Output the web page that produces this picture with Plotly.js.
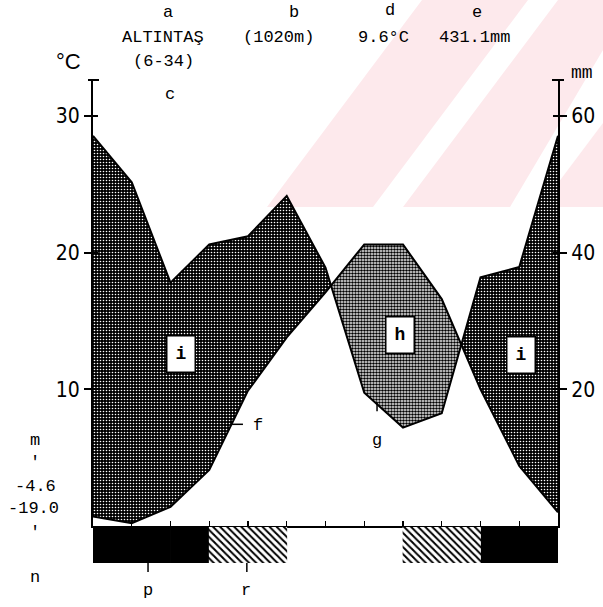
<!DOCTYPE html>
<html><head><meta charset="utf-8">
<script src="https://cdn.plot.ly/plotly-3.0.1.min.js"></script>
<style>html,body{margin:0;padding:0;background:#fff}</style>
</head><body><div id="chart" style="width:603px;height:607px"></div>
<script>
// ---- data ----
const months = ['Ara','Oca','Şub','Mar','Nis','May','Haz','Tem','Ağu','Eyl','Eki','Kas','Ara'];
const tempC  = [0.7, 0.2, 1.4, 4.1, 9.9, 13.8, 17.1, 20.6, 20.6, 16.6, 10.0, 4.4, 1.0];
const precMm = [57.1, 50.3, 35.6, 41.2, 42.4, 48.3, 37.8, 19.5, 14.4, 16.5, 36.4, 37.9, 57.1];
const frostMonths = ['Oca','Şub','Mar','Nis','May','Haz','Tem','Ağu','Eyl','Eki','Kas','Ara'];
const frostCode   = [2,2,2,1,1,0,0,0,1,1,2,2]; // 2 = certain frost, 1 = probable frost
const tempTicks = [10,20,30];
const precTicks = [20,40,60];

// ---- geometry helpers ----
const W=603,H=607,L=93,R=45,T=80,B=44;
const pw=W-L-R, ph=H-T-B;
const px = v => (v-L)/pw, py = v => (H-B-v)/ph;
const tTop = 32.63;

const idx = months.map((m,i)=>i);
const half = precMm.map(v=>v/2);
let xs=[], ts=[], ps=[];
for (let i=0;i<idx.length;i++){
  xs.push(idx[i]); ts.push(tempC[i]); ps.push(half[i]);
  if (i<idx.length-1){
    const d0=half[i]-tempC[i], d1=half[i+1]-tempC[i+1];
    if (d0*d1<0){
      const f=d0/(d0-d1);
      const tc=tempC[i]+f*(tempC[i+1]-tempC[i]);
      xs.push(idx[i]+f); ts.push(tc); ps.push(tc);
    }
  }
}
const hi = ts.map((t,k)=>Math.max(t,ps[k]));
const noLine = {width:0, color:'rgba(0,0,0,0)'};

const traces = [
  {x:xs, y:ts, mode:'lines', line:noLine, hoverinfo:'skip', showlegend:false},
  {x:xs, y:hi, mode:'lines', line:noLine, fill:'tonexty', fillcolor:'#000', fillpattern:{shape:'.', bgcolor:'#000', fgcolor:'#fff', size:3, solidity:0.22}, hoverinfo:'skip', showlegend:false},
  {x:xs, y:ps, mode:'lines', line:noLine, hoverinfo:'skip', showlegend:false},
  {x:xs, y:hi, mode:'lines', line:noLine, fill:'tonexty', fillcolor:'#fff', fillpattern:{shape:'.', bgcolor:'#fff', fgcolor:'#000', size:3, solidity:0.6}, hoverinfo:'skip', showlegend:false},
  {x:idx, y:tempC, mode:'lines', line:{color:'#000', width:2}, showlegend:false},
  {x:idx, y:precMm, yaxis:'y2', mode:'lines', line:{color:'#000', width:2}, showlegend:false},
  {x:[0], y:[0], yaxis:'y4', mode:'lines', line:noLine, showlegend:false, hoverinfo:'skip'},
  {x:[0], y:[0], yaxis:'y5', mode:'lines', line:noLine, showlegend:false, hoverinfo:'skip'},
];
const cx=[], cy=[], hx=[], hy=[];
frostMonths.forEach((m,i)=>{ if(frostCode[i]===2){cx.push(i+0.5); cy.push(1);} if(frostCode[i]===1){hx.push(i+0.5); hy.push(1);} });
traces.push({type:'bar', x:cx, y:cy, width:1.02, xaxis:'x2', yaxis:'y3', marker:{color:'#000', line:{width:0}}, showlegend:false, hoverinfo:'skip'});
traces.push({type:'bar', x:hx, y:hy, width:1.02, xaxis:'x2', yaxis:'y3', marker:{color:'#fff', line:{width:0}, pattern:{shape:'\\', bgcolor:'#fff', fgcolor:'#000', size:5, solidity:0.4}}, showlegend:false, hoverinfo:'skip'});

const mono = 'Liberation Mono, Courier New, monospace';
const narrow = 'DejaVu Sans Condensed, sans-serif';
function txt(t, x, y, size, extra){ return Object.assign({text:t, xref:'paper', yref:'paper', x:px(x), y:py(y), xanchor:'center', yanchor:'middle', showarrow:false, font:{family:mono, size:size||17, color:'#000'}}, extra||{}); }
function boxLbl(t, xd, yd){ return {text:'<b>'+t+'</b>', x:xd, y:yd, xref:'x', yref:'y', showarrow:false, bgcolor:'#fff', bordercolor:'#000', borderwidth:1.5, width:25, height:33, font:{family:mono, size:18, color:'#000'}}; }

const annotations = [
  txt('a',168,12), txt('b',294,12), txt('d',390,10), txt('e',477,12),
  txt('ALTINTAŞ',163,37), txt('(1020m)',278,37), txt('9.6°C',383,37), txt('431.1mm',474,37),
  txt('°C',68,62,22,{font:{family:'Liberation Sans, Arial, sans-serif', size:22, color:'#000'}}),
  txt('(6-34)',163,62), txt('mm',582,73,18,{font:{family:mono, size:18, color:'#000'}}),
  txt('c',170,95),
  txt('f',258,425), txt('g',377,440),
  txt('m',35,440), txt("'",35,462), txt('-4.6',35,486), txt('-19.0',33,508), txt("'",35,532), txt('n',35,577),
  txt('p',148,590), txt('r',246,590),
  boxLbl('i',2.27,12.55), boxLbl('h',7.92,13.95), boxLbl('i',11.05,12.5)
];

const pink='#fde9ec';
function poly(pts){ return 'M'+pts.map(p=>px(p[0])+','+py(p[1])).join(' L')+' Z'; }
const shapes = [
  {type:'path', xref:'paper', yref:'paper', layer:'below', line:{width:0}, fillcolor:pink, path:poly([[267,207],[422,0],[528,0],[373,207]])},
  {type:'path', xref:'paper', yref:'paper', layer:'below', line:{width:0}, fillcolor:pink, path:poly([[403,207],[558,0],[603,0],[603,50],[510,207]])},
  {type:'path', xref:'paper', yref:'paper', layer:'below', line:{width:0}, fillcolor:pink, path:poly([[540,207],[603,123],[603,207]])},
  {type:'line', xref:'paper', yref:'paper', x0:px(88), x1:px(99), y0:py(80), y1:py(80), line:{color:'#000', width:2}},
  {type:'line', xref:'paper', yref:'paper', x0:px(552), x1:px(564), y0:py(80), y1:py(80), line:{color:'#000', width:2}},
  {type:'line', xref:'x', yref:'y', x0:3.54, x1:3.87, y0:7.44, y1:7.44, line:{color:'#000', width:1.5}},
  {type:'line', xref:'x', yref:'y', x0:7.33, x1:7.33, y0:9.05, y1:8.39, line:{color:'#000', width:1.5}},
  {type:'line', xref:'x', yref:'paper', x0:1.42, x1:1.42, y0:py(563), y1:py(572), line:{color:'#000', width:1.5}},
  {type:'line', xref:'x', yref:'paper', x0:3.97, x1:3.97, y0:py(563), y1:py(572), line:{color:'#000', width:1.5}},
];

const yDom=[py(526),1];
const layout = {
  width:W, height:H, margin:{l:L,r:R,t:T,b:B,pad:0},
  paper_bgcolor:'#fff', plot_bgcolor:'rgba(0,0,0,0)', showlegend:false, barmode:'overlay',
  xaxis:{domain:[0,1], anchor:'y', range:[0,12], showline:true, linecolor:'#000', linewidth:1.5, ticks:'inside', ticklen:5, tickwidth:1.2, tickcolor:'#000', tickvals:idx.slice(1,-1), showticklabels:false, showgrid:false, zeroline:false},
  yaxis:{domain:yDom, anchor:'x', range:[0,tTop], showline:true, linecolor:'#000', linewidth:2, ticks:'outside', ticklen:7, tickwidth:2, tickcolor:'#000', tickvals:tempTicks, ticktext:tempTicks.map(String), tickfont:{family:narrow, size:21, color:'#000'}, showgrid:false, zeroline:false},
  yaxis4:{overlaying:'y', side:'left', anchor:'x', range:[0,tTop], showline:false, ticks:'inside', ticklen:5, tickwidth:2, tickcolor:'#000', tickvals:tempTicks, showticklabels:false, showgrid:false, zeroline:false},
  yaxis2:{overlaying:'y', side:'right', anchor:'x', range:[0,2*tTop], showline:true, linecolor:'#000', linewidth:2, ticks:'outside', ticklen:7, tickwidth:2, tickcolor:'#000', tickvals:precTicks, ticktext:precTicks.map(String), tickfont:{family:narrow, size:21, color:'#000'}, showgrid:false, zeroline:false},
  yaxis5:{overlaying:'y', side:'right', anchor:'x', range:[0,2*tTop], showline:false, ticks:'inside', ticklen:5, tickwidth:2, tickcolor:'#000', tickvals:precTicks, showticklabels:false, showgrid:false, zeroline:false},
  xaxis2:{domain:[0,1], anchor:'y3', range:[0,12], visible:false},
  yaxis3:{domain:[0,py(527)], anchor:'x2', range:[0,1], visible:false},
  annotations, shapes
};
Plotly.newPlot('chart', traces, layout, {displayModeBar:false, staticPlot:true});
</script></body></html>
